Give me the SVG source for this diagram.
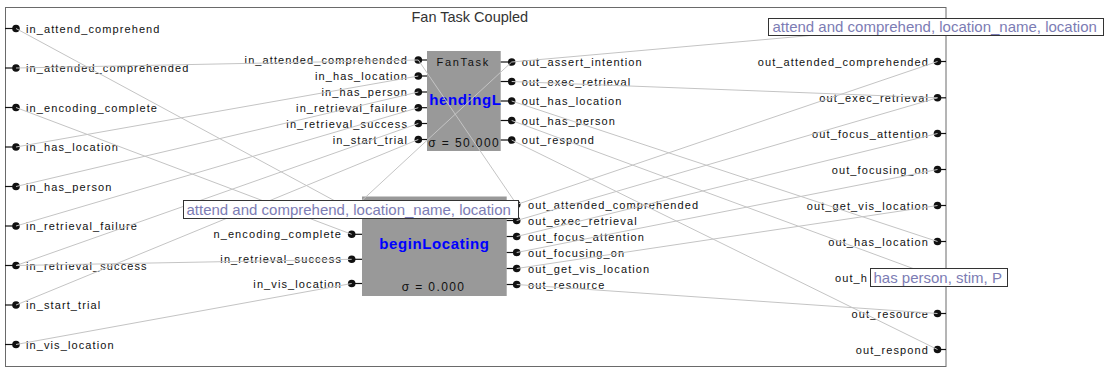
<svg xmlns="http://www.w3.org/2000/svg" width="1104" height="368" viewBox="0 0 1104 368">
  <style>
    .lbl{font-family:"Liberation Sans",Arial,sans-serif;font-size:11px;letter-spacing:1.1px;fill:#111}
    .end{text-anchor:end}
    .dot{fill:#111}
    .stub{stroke:#111;stroke-width:1.2}
    .frame{fill:none;stroke:#6a6a6a;stroke-width:1}
    .title{font-family:"Liberation Sans",Arial,sans-serif;font-size:14.5px;fill:#333}
    .box{fill:#999}
    .kind{font-family:"Liberation Sans",Arial,sans-serif;font-size:11px;letter-spacing:1.7px;fill:#111}
    .name{font-family:"Liberation Sans",Arial,sans-serif;font-weight:bold;font-size:15px;letter-spacing:0.6px;fill:#0000ff}
    .sigma{font-family:"Liberation Sans",Arial,sans-serif;font-size:12px;letter-spacing:1.4px;fill:#111}
    .wire{stroke:#c4c4c4;stroke-width:1;fill:none}
    .tip rect{fill:#fff;stroke:#333;stroke-width:1}
    .tip text{font-family:"Liberation Sans",Arial,sans-serif;font-size:15px;fill:#7c7cb4}
  </style>

  <rect width="1104" height="368" fill="#fff"/>

  <!-- coupled model frame with its external ports -->
  <g id="fan-task-coupled">
    <rect class="frame" x="5.5" y="7.5" width="940.5" height="359"/>
    <text class="title" x="411.5" y="21.5">Fan Task Coupled</text>
    <g id="coupled-inputs">
      <line class="stub" x1="5" y1="28.5" x2="16" y2="28.5"/><circle class="dot" cx="16" cy="28.5" r="3.8"/>
      <text class="lbl" x="26" y="32.5">in_attend_comprehend</text>
      <line class="stub" x1="5" y1="68" x2="16" y2="68"/><circle class="dot" cx="16" cy="68" r="3.8"/>
      <text class="lbl" x="26" y="72">in_attended_comprehended</text>
      <line class="stub" x1="5" y1="107.5" x2="16" y2="107.5"/><circle class="dot" cx="16" cy="107.5" r="3.8"/>
      <text class="lbl" x="26" y="111.5">in_encoding_complete</text>
      <line class="stub" x1="5" y1="147" x2="16" y2="147"/><circle class="dot" cx="16" cy="147" r="3.8"/>
      <text class="lbl" x="26" y="151">in_has_location</text>
      <line class="stub" x1="5" y1="186.5" x2="16" y2="186.5"/><circle class="dot" cx="16" cy="186.5" r="3.8"/>
      <text class="lbl" x="26" y="190.5">in_has_person</text>
      <line class="stub" x1="5" y1="226" x2="16" y2="226"/><circle class="dot" cx="16" cy="226" r="3.8"/>
      <text class="lbl" x="26" y="230">in_retrieval_failure</text>
      <line class="stub" x1="5" y1="265.5" x2="16" y2="265.5"/><circle class="dot" cx="16" cy="265.5" r="3.8"/>
      <text class="lbl" x="26" y="269.5">in_retrieval_success</text>
      <line class="stub" x1="5" y1="305" x2="16" y2="305"/><circle class="dot" cx="16" cy="305" r="3.8"/>
      <text class="lbl" x="26" y="309">in_start_trial</text>
      <line class="stub" x1="5" y1="344.5" x2="16" y2="344.5"/><circle class="dot" cx="16" cy="344.5" r="3.8"/>
      <text class="lbl" x="26" y="348.5">in_vis_location</text>
    </g>
    <g id="coupled-outputs">
      <line class="stub" x1="937.5" y1="61.5" x2="946" y2="61.5"/><circle class="dot" cx="937.5" cy="61.5" r="3.8"/>
      <text class="lbl end" x="929" y="65.5">out_attended_comprehended</text>
      <line class="stub" x1="937.5" y1="97.8" x2="946" y2="97.8"/><circle class="dot" cx="937.5" cy="97.8" r="3.8"/>
      <text class="lbl end" x="929" y="101.8">out_exec_retrieval</text>
      <line class="stub" x1="937.5" y1="133.5" x2="946" y2="133.5"/><circle class="dot" cx="937.5" cy="133.5" r="3.8"/>
      <text class="lbl end" x="929" y="137.5">out_focus_attention</text>
      <line class="stub" x1="937.5" y1="169.5" x2="946" y2="169.5"/><circle class="dot" cx="937.5" cy="169.5" r="3.8"/>
      <text class="lbl end" x="929" y="173.5">out_focusing_on</text>
      <line class="stub" x1="937.5" y1="205.5" x2="946" y2="205.5"/><circle class="dot" cx="937.5" cy="205.5" r="3.8"/>
      <text class="lbl end" x="929" y="209.5">out_get_vis_location</text>
      <line class="stub" x1="937.5" y1="241.5" x2="946" y2="241.5"/><circle class="dot" cx="937.5" cy="241.5" r="3.8"/>
      <text class="lbl end" x="929" y="245.5">out_has_location</text>
      <line class="stub" x1="937.5" y1="277.5" x2="946" y2="277.5"/><circle class="dot" cx="937.5" cy="277.5" r="3.8"/>
      <text class="lbl" x="835" y="281.5">out_h</text>
      <line class="stub" x1="937.5" y1="313.5" x2="946" y2="313.5"/><circle class="dot" cx="937.5" cy="313.5" r="3.8"/>
      <text class="lbl end" x="929" y="317.5">out_resource</text>
      <line class="stub" x1="937.5" y1="349.5" x2="946" y2="349.5"/><circle class="dot" cx="937.5" cy="349.5" r="3.8"/>
      <text class="lbl end" x="929" y="353.5">out_respond</text>
    </g>
  </g>

  <!-- atomic model: FanTask -->
  <g id="fan-task">
    <rect class="box" x="427" y="51" width="73.7" height="100"/>
    <text class="kind" x="436.5" y="65.5">FanTask</text>
    <text class="name" x="429.3" y="105">hendingL</text>
    <text class="sigma" x="428.3" y="146.5">σ = 50.000</text>
    <line class="stub" x1="418.3" y1="60" x2="427" y2="60"/><circle class="dot" cx="418.3" cy="60" r="3.8"/>
    <text class="lbl end" x="408" y="64">in_attended_comprehended</text>
    <line class="stub" x1="418.3" y1="76" x2="427" y2="76"/><circle class="dot" cx="418.3" cy="76" r="3.8"/>
    <text class="lbl end" x="408" y="80">in_has_location</text>
    <line class="stub" x1="418.3" y1="92" x2="427" y2="92"/><circle class="dot" cx="418.3" cy="92" r="3.8"/>
    <text class="lbl end" x="408" y="96">in_has_person</text>
    <line class="stub" x1="418.3" y1="107.7" x2="427" y2="107.7"/><circle class="dot" cx="418.3" cy="107.7" r="3.8"/>
    <text class="lbl end" x="408" y="111.7">in_retrieval_failure</text>
    <line class="stub" x1="418.3" y1="123.5" x2="427" y2="123.5"/><circle class="dot" cx="418.3" cy="123.5" r="3.8"/>
    <text class="lbl end" x="408" y="127.5">in_retrieval_success</text>
    <line class="stub" x1="418.3" y1="139.5" x2="427" y2="139.5"/><circle class="dot" cx="418.3" cy="139.5" r="3.8"/>
    <text class="lbl end" x="408" y="143.5">in_start_trial</text>
    <line class="stub" x1="500.7" y1="62" x2="511.7" y2="62"/><circle class="dot" cx="511.7" cy="62" r="3.8"/>
    <text class="lbl" x="521.7" y="66">out_assert_intention</text>
    <line class="stub" x1="500.7" y1="81.5" x2="511.7" y2="81.5"/><circle class="dot" cx="511.7" cy="81.5" r="3.8"/>
    <text class="lbl" x="521.7" y="85.5">out_exec_retrieval</text>
    <line class="stub" x1="500.7" y1="101" x2="511.7" y2="101"/><circle class="dot" cx="511.7" cy="101" r="3.8"/>
    <text class="lbl" x="521.7" y="105">out_has_location</text>
    <line class="stub" x1="500.7" y1="120.5" x2="511.7" y2="120.5"/><circle class="dot" cx="511.7" cy="120.5" r="3.8"/>
    <text class="lbl" x="521.7" y="124.5">out_has_person</text>
    <line class="stub" x1="500.7" y1="140" x2="511.7" y2="140"/><circle class="dot" cx="511.7" cy="140" r="3.8"/>
    <text class="lbl" x="521.7" y="144">out_respond</text>
  </g>

  <!-- atomic model: beginLocating -->
  <g id="begin-locating">
    <rect class="box" x="362" y="196.5" width="144.7" height="99.5"/>
    <text class="name" x="379.3" y="248.5">beginLocating</text>
    <text class="sigma" x="401.7" y="290.5">σ = 0.000</text>
    <line class="stub" x1="351.7" y1="210" x2="362" y2="210"/><circle class="dot" cx="351.7" cy="210" r="3.8"/>
    <line class="stub" x1="351.7" y1="234.3" x2="362" y2="234.3"/><circle class="dot" cx="351.7" cy="234.3" r="3.8"/>
    <text class="lbl end" x="342" y="238.3">n_encoding_complete</text>
    <line class="stub" x1="351.7" y1="259.3" x2="362" y2="259.3"/><circle class="dot" cx="351.7" cy="259.3" r="3.8"/>
    <text class="lbl end" x="342" y="263.3">in_retrieval_success</text>
    <line class="stub" x1="351.7" y1="283.5" x2="362" y2="283.5"/><circle class="dot" cx="351.7" cy="283.5" r="3.8"/>
    <text class="lbl end" x="342" y="287.5">in_vis_location</text>
    <line class="stub" x1="506.7" y1="204.5" x2="516.7" y2="204.5"/><circle class="dot" cx="516.7" cy="204.5" r="3.8"/>
    <text class="lbl" x="528" y="208.5">out_attended_comprehended</text>
    <line class="stub" x1="506.7" y1="220.5" x2="516.7" y2="220.5"/><circle class="dot" cx="516.7" cy="220.5" r="3.8"/>
    <text class="lbl" x="528" y="224.5">out_exec_retrieval</text>
    <line class="stub" x1="506.7" y1="236.5" x2="516.7" y2="236.5"/><circle class="dot" cx="516.7" cy="236.5" r="3.8"/>
    <text class="lbl" x="528" y="240.5">out_focus_attention</text>
    <line class="stub" x1="506.7" y1="252.5" x2="516.7" y2="252.5"/><circle class="dot" cx="516.7" cy="252.5" r="3.8"/>
    <text class="lbl" x="528" y="256.5">out_focusing_on</text>
    <line class="stub" x1="506.7" y1="268.5" x2="516.7" y2="268.5"/><circle class="dot" cx="516.7" cy="268.5" r="3.8"/>
    <text class="lbl" x="528" y="272.5">out_get_vis_location</text>
    <line class="stub" x1="506.7" y1="284.5" x2="516.7" y2="284.5"/><circle class="dot" cx="516.7" cy="284.5" r="3.8"/>
    <text class="lbl" x="528" y="288.5">out_resource</text>
  </g>

  <!-- couplings -->
  <g id="connectors" class="wire">
    <!-- external input couplings -->
    <line x1="16" y1="28.5" x2="351.7" y2="210"/>
    <line x1="16" y1="68" x2="418.3" y2="60"/>
    <line x1="16" y1="107.5" x2="351.7" y2="234.3"/>
    <line x1="16" y1="147" x2="418.3" y2="76"/>
    <line x1="16" y1="186.5" x2="418.3" y2="92"/>
    <line x1="16" y1="226" x2="418.3" y2="107.7"/>
    <line x1="16" y1="265.5" x2="418.3" y2="123.5"/>
    <line x1="16" y1="265.5" x2="351.7" y2="259.3"/>
    <line x1="16" y1="305" x2="418.3" y2="139.5"/>
    <line x1="16" y1="344.5" x2="351.7" y2="283.5"/>
    <!-- internal couplings -->
    <line x1="511.7" y1="62" x2="351.7" y2="210"/>
    <line x1="516.7" y1="204.5" x2="418.3" y2="60"/>
    <!-- external output couplings -->
    <line x1="511.7" y1="62" x2="940" y2="24"/>
    <line x1="511.7" y1="81.5" x2="937.5" y2="97.8"/>
    <line x1="511.7" y1="101" x2="937.5" y2="241.5"/>
    <line x1="511.7" y1="120.5" x2="937.5" y2="277.5"/>
    <line x1="511.7" y1="140" x2="937.5" y2="349.5"/>
    <line x1="516.7" y1="204.5" x2="937.5" y2="61.5"/>
    <line x1="516.7" y1="220.5" x2="937.5" y2="97.8"/>
    <line x1="516.7" y1="236.5" x2="937.5" y2="133.5"/>
    <line x1="516.7" y1="252.5" x2="937.5" y2="169.5"/>
    <line x1="516.7" y1="268.5" x2="937.5" y2="205.5"/>
    <line x1="516.7" y1="284.5" x2="937.5" y2="313.5"/>
  </g>

  <!-- hover tips -->
  <g id="tip-begin-locating" class="tip">
    <rect x="183.5" y="200.5" width="335" height="18"/>
    <text x="186.5" y="214.5">attend and comprehend, location_name, location</text>
  </g>
  <g id="tip-assert-intention" class="tip">
    <rect x="768.5" y="18.5" width="335" height="17"/>
    <text x="772.5" y="32">attend and comprehend, location_name, location</text>
  </g>
  <g id="tip-has-person" class="tip">
    <rect x="870.5" y="268.5" width="137" height="18"/>
    <text x="873.5" y="282.5">has person, stim, P</text>
  </g>
</svg>
